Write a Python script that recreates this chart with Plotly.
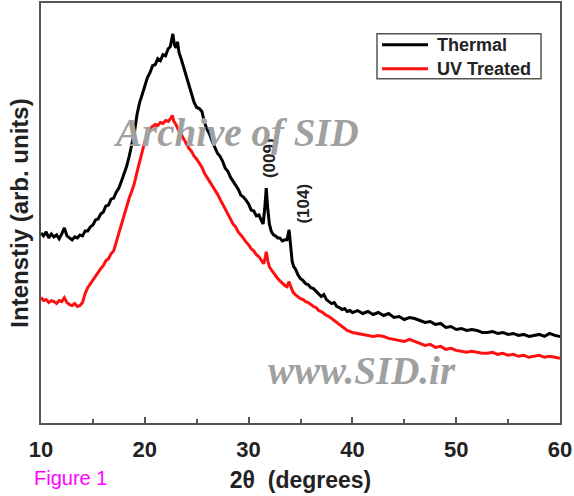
import plotly.graph_objects as go

# 2-theta (degrees) and intensities (arb. units)
theta_thermal = [10.0, 10.25, 10.5, 10.75, 11.0, 11.25, 11.5, 11.75, 12.0, 12.25,
                 12.5, 12.75, 13.0, 13.25, 13.5, 13.75, 14.0, 14.25, 14.5, 14.75,
                 15.0, 15.25, 15.5, 15.75, 16.0, 16.25, 16.5, 16.75, 17.0, 17.25,
                 17.5, 17.75, 18.0, 18.25, 18.5, 18.75, 19.0, 19.25, 19.5, 19.75,
                 20.0, 20.25, 20.5, 20.75, 21.0, 21.25, 21.5, 21.75, 22.0, 22.25,
                 22.45, 22.6, 22.7, 22.85, 23.0, 23.15, 23.3, 23.5, 23.75, 24.0,
                 24.25, 24.5, 24.75, 25.0, 25.25, 25.5, 25.75, 26.0, 26.25, 26.5,
                 26.75, 27.0, 27.25, 27.5, 27.75, 28.0, 28.25, 28.5, 28.75, 29.0,
                 29.25, 29.5, 29.75, 30.0, 30.25, 30.5, 30.75, 31.0, 31.2, 31.4,
                 31.55, 31.7, 31.85, 32.0, 32.2, 32.4, 32.6, 32.8, 33.0, 33.25,
                 33.5, 33.7, 33.9, 34.05, 34.2, 34.35, 34.5, 34.75, 35.0, 35.25,
                 35.5, 35.75, 36.0, 36.25, 36.5, 36.75, 37.0, 37.25, 37.5, 37.75,
                 38.0, 38.25, 38.5, 38.75, 39.0, 39.25, 39.5, 39.75, 40.0, 40.5,
                 41.0, 41.5, 42.0, 42.5, 43.0, 43.5, 44.0, 44.5, 45.0, 45.5,
                 46.0, 46.5, 47.0, 47.5, 48.0, 48.5, 49.0, 49.5, 50.0, 50.5,
                 51.0, 51.5, 52.0, 52.5, 53.0, 53.5, 54.0, 54.5, 55.0, 55.5,
                 56.0, 56.5, 57.0, 57.5, 58.0, 58.5, 59.0, 59.5, 60.0]
thermal = [191, 188, 192, 186, 190, 187, 189, 185, 190, 196,
           188, 186, 184, 187, 186, 189, 188, 193, 193, 197,
           199, 204, 205, 210, 212, 218, 219, 225, 226, 232,
           236, 243, 250, 258, 268, 280, 292, 310, 322, 330,
           338, 347, 352, 359, 360, 366, 364, 370, 369, 376,
           378, 385, 391, 380, 377, 383, 372, 366, 357, 350,
           340, 331, 322, 317, 316, 313, 302, 295, 290, 283,
           276, 271, 268, 263, 256, 253, 247, 243, 240, 235,
           229, 227, 224, 220, 214, 213, 208, 209, 204, 200,
           215, 236, 215, 200, 192, 189, 188, 186, 186, 183,
           184, 184, 194, 178, 162, 157, 155, 149, 145, 143,
           140, 139, 136, 135, 132, 130, 127, 129, 124, 122,
           120, 121, 117, 116, 114, 115, 112, 113, 111, 113,
           110, 112, 109, 111, 108, 110, 106, 107, 104, 106,
           105, 103, 101, 102, 99, 100, 96, 97, 94, 95,
           93, 94, 93, 91, 91, 92, 90, 91, 89, 90,
           88, 89, 87, 88, 89, 87, 90, 88, 87]

theta_uv = [10.0, 10.25, 10.5, 10.75, 11.0, 11.25, 11.5, 11.75, 12.0, 12.25,
            12.5, 12.75, 13.0, 13.25, 13.5, 13.75, 14.0, 14.25, 14.5, 14.75,
            15.0, 15.25, 15.5, 15.75, 16.0, 16.25, 16.5, 16.75, 17.0, 17.25,
            17.5, 17.75, 18.0, 18.25, 18.5, 18.75, 19.0, 19.25, 19.5, 19.75,
            20.0, 20.25, 20.5, 20.75, 21.0, 21.25, 21.5, 21.75, 22.0, 22.25,
            22.5, 22.65, 22.8, 23.0, 23.25, 23.5, 23.75, 24.0, 24.25, 24.5,
            24.75, 25.0, 25.25, 25.5, 25.75, 26.0, 26.25, 26.5, 26.75, 27.0,
            27.25, 27.5, 27.75, 28.0, 28.25, 28.5, 28.75, 29.0, 29.25, 29.5,
            29.75, 30.0, 30.25, 30.5, 30.75, 31.0, 31.25, 31.45, 31.6, 31.7,
            31.85, 32.0, 32.25, 32.5, 32.75, 33.0, 33.25, 33.5, 33.7, 33.9,
            34.1, 34.3, 34.5, 34.75, 35.0, 35.25, 35.5, 35.75, 36.0, 36.25,
            36.5, 36.75, 37.0, 37.25, 37.5, 37.75, 38.0, 38.25, 38.5, 38.75,
            39.0, 39.25, 39.5, 39.75, 40.0, 40.5, 41.0, 41.5, 42.0, 42.5,
            43.0, 43.5, 44.0, 44.5, 45.0, 45.5, 46.0, 46.5, 47.0, 47.5,
            48.0, 48.5, 49.0, 49.5, 50.0, 50.5, 51.0, 51.5, 52.0, 52.5,
            53.0, 53.5, 54.0, 54.5, 55.0, 55.5, 56.0, 56.5, 57.0, 57.5,
            58.0, 58.5, 59.0, 59.5, 60.0]
uv = [126, 123, 124, 121, 123, 122, 120, 123, 122, 126,
      121, 119, 118, 120, 117, 118, 121, 130, 136, 140,
      143, 148, 151, 155, 158, 163, 165, 170, 173, 182,
      191, 199, 209, 218, 226, 233, 241, 252, 263, 273,
      283, 290, 296, 298, 300, 299, 302, 301, 304, 303,
      306, 309, 303, 300, 294, 290, 285, 281, 276, 273,
      268, 265, 261, 257, 251, 247, 243, 238, 234, 230,
      225, 220, 216, 210, 206, 200, 197, 192, 189, 185,
      182, 179, 175, 173, 169, 167, 163, 160, 166, 172,
      163, 157, 153, 149, 146, 143, 140, 138, 137, 142,
      136, 131, 129, 127, 125, 124, 122, 121, 119, 117,
      116, 113, 112, 110, 108, 107, 105, 103, 101, 99,
      97, 95, 93, 92, 91, 90, 89, 88, 87, 88,
      87, 85, 84, 83, 82, 84, 82, 80, 78, 79,
      76, 77, 74, 75, 73, 72, 71, 72, 71, 70,
      70, 71, 69, 70, 68, 69, 67, 68, 66, 67,
      68, 66, 67, 66, 65]

x_ticks = [10, 20, 30, 40, 50, 60]
series_names = ["Thermal", "UV Treated"]
series_colors = ["black", "#ff1010"]

fig = go.Figure()
fig.add_trace(go.Scatter(x=theta_thermal, y=thermal, mode="lines", name=series_names[0],
                         showlegend=False, line=dict(color=series_colors[0], width=3)))
fig.add_trace(go.Scatter(x=theta_uv, y=uv, mode="lines", name=series_names[1],
                         showlegend=False, line=dict(color=series_colors[1], width=3)))

bold = dict(family="Liberation Sans, Arial", color="#222", weight="bold")

fig.update_layout(
    width=574, height=496,
    margin=dict(l=41, r=14, t=1, b=73),
    paper_bgcolor="white", plot_bgcolor="white",
    xaxis=dict(range=[10, 60], tickvals=x_ticks, ticktext=[str(v) for v in x_ticks],
               ticks="inside", ticklen=6, tickwidth=1.5, tickcolor="#555",
               minor=dict(dtick=5, ticks="inside", ticklen=4, tickcolor="#555", tickwidth=1.5),
               showline=True, linecolor="#555", linewidth=2, mirror=True,
               showgrid=False, zeroline=False, ticklabelstandoff=6,
               tickfont=dict(size=22, **bold),
               title=dict(text="2θ  (degrees)", font=dict(size=23, **bold), standoff=10)),
    yaxis=dict(range=[0, 422], showticklabels=False, ticks="",
               showline=True, linecolor="#555", linewidth=2, mirror=True,
               showgrid=False, zeroline=False,
               title=dict(text="Intenstiy (arb. units)", font=dict(size=24, **bold), standoff=4)),
)

# legend box (drawn manually to match the original placement)
px_x = lambda p: (p - 41) / 519
px_y = lambda p: (423 - p) / 422
fig.add_shape(type="rect", xref="paper", yref="paper",
              x0=px_x(377), x1=px_x(541), y0=px_y(77), y1=px_y(32),
              line=dict(color="#555", width=1.5), fillcolor="white", layer="above")
for name, color, ly in zip(series_names, series_colors, [43, 67]):
    fig.add_shape(type="line", xref="paper", yref="paper",
                  x0=px_x(382), x1=px_x(428), y0=px_y(ly), y1=px_y(ly),
                  line=dict(color=color, width=3), layer="above")
    fig.add_annotation(xref="paper", yref="paper", x=px_x(435), y=px_y(ly),
                       xanchor="left", yanchor="middle", text=name, showarrow=False,
                       font=dict(size=18, **bold))

annos = [
    dict(x=31.95, y=266, text="(009)"),
    dict(x=35.2, y=220, text="(104)"),
]
for a in annos:
    fig.add_annotation(xref="x", yref="y", showarrow=False, textangle=-90,
                       xanchor="center", yanchor="middle", font=dict(size=17, **bold), **a)

wm_font = dict(family="Liberation Serif", size=39, color="#a0a0a0", weight="bold", style="italic")
fig.add_annotation(xref="paper", yref="paper", x=px_x(236), y=px_y(132),
                   xanchor="center", yanchor="middle",
                   text="Archive of SID", showarrow=False, font=wm_font)
fig.add_annotation(xref="paper", yref="paper", x=px_x(362), y=px_y(370),
                   xanchor="center", yanchor="middle",
                   text="www.SID.ir", showarrow=False, font=wm_font)
fig.add_annotation(xref="paper", yref="paper", x=px_x(70), y=px_y(478),
                   xanchor="center", yanchor="middle",
                   text="Figure 1", showarrow=False,
                   font=dict(family="Liberation Sans, Arial", size=20, color="#ff00ff"))

fig.write_html("out.html")
